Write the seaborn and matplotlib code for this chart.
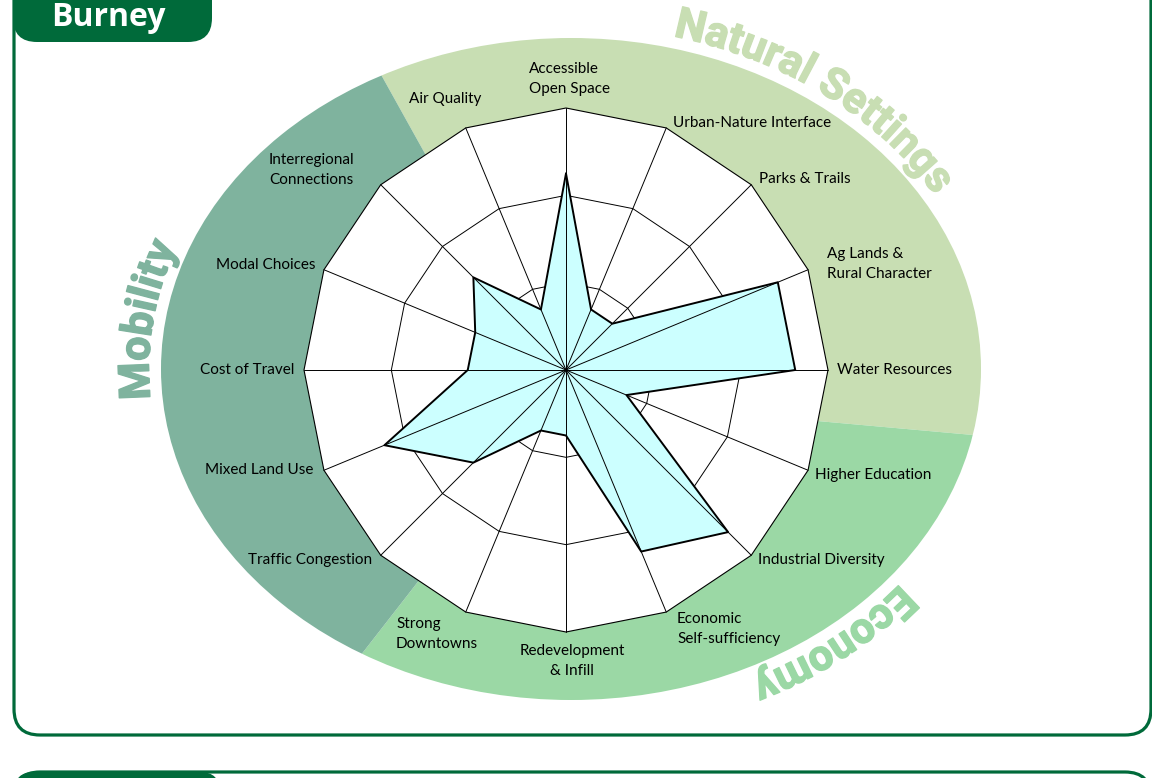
import numpy as np
import pandas as pd
import matplotlib
matplotlib.use("Agg")
import matplotlib.pyplot as plt
import matplotlib.patheffects as pe
import seaborn as sns
from matplotlib import ft2font, font_manager
from matplotlib.font_manager import FontProperties
from matplotlib.patches import Ellipse, Wedge, FancyBboxPatch

# ---- data ----
categories = ["Accessible\nOpen Space", "Urban-Nature Interface", "Parks & Trails",
              "Ag Lands &\nRural Character", "Water Resources", "Higher Education",
              "Industrial Diversity", "Economic\nSelf-sufficiency", "Redevelopment\n& Infill",
              "Strong\nDowntowns", "Traffic Congestion", "Mixed Land Use", "Cost of Travel",
              "Modal Choices", "Interregional\nConnections", "Air Quality"]
scores = [3, 1, 1, 3.5, 3.5, 1, 3.5, 3, 1, 1, 2, 3, 1.5, 1.5, 2, 1]
ring_levels = [4 / 3, 8 / 3]
max_score = 4
themes = ["Natural Settings", "Economy", "Mobility"]
title = "Burney"

# ---- styles / layout (pixels) ----
W, H = 1152, 778
dark_green = "#006a3a"
theme_colors = ["#c8deb3", "#9bd8a5", "#7fb39e"]
fill_color = "#ccffff"
label_font = "Lato"
title_font = "Open Sans"
theme_font = "Roboto"
radar_c = (566, 370)
radar_R = 262
ell_c, ell_a, ell_b = (571, 369), 410, 331
wedge_c = (561, 398)
# wedge angles in (pixel) data space, boundaries between themes
wedge_angles = [(240.9, 365.13), (5.13, 127.9), (127.9, 240.9)]
theme_text_t = [36, 142, 278]

label_pos = [(529, 79, "left"), (673, 123, "left"), (759, 179, "left"), (827, 264, "left"),
             (837, 370, "left"), (815, 475, "left"), (758, 560, "left"), (677, 629, "left"),
             (572, 661, "center"), (396, 634, "left"), (372, 560, "right"), (313, 470, "right"),
             (294, 370, "right"), (316, 265, "right"), (269, 170, "left"), (481, 99, "right")]

sns.set_theme(style="white")
plt.rcParams["font.family"] = [label_font, "DejaVu Sans"]

fig = plt.figure(figsize=(W / 100, H / 100), dpi=100)
bg = fig.add_axes([0, 0, 1, 1])
bg.set_xlim(0, W)
bg.set_ylim(H, 0)
bg.axis("off")

# frame and title tab
bg.add_patch(FancyBboxPatch((14, -60), 1137, 795, boxstyle="round,pad=0,rounding_size=26",
                            facecolor="white", edgecolor=dark_green, lw=2.3, zorder=0))
bg.add_patch(FancyBboxPatch((13, -60), 199, 102, boxstyle="round,pad=0,rounding_size=24",
                            facecolor=dark_green, edgecolor="none", zorder=1))
bg.text(108, 17, title, color="white", fontsize=23, fontweight="bold", ha="center",
        va="center", family=[title_font, "DejaVu Sans"], zorder=2)
# next panel top
bg.add_patch(FancyBboxPatch((14, 772), 1137, 100, boxstyle="round,pad=0,rounding_size=26",
                            facecolor="white", edgecolor=dark_green, lw=2.3, zorder=0))
bg.add_patch(FancyBboxPatch((14, 772), 206, 100, boxstyle="round,pad=0,rounding_size=20",
                            facecolor=dark_green, edgecolor="none", zorder=1))

# themed ellipse sectors
ell = Ellipse(ell_c, 2 * ell_a, 2 * ell_b, facecolor="none", edgecolor="none")
bg.add_patch(ell)
for (t1, t2), col in zip(wedge_angles, theme_colors):
    w = Wedge(wedge_c, 1500, t1, t2, facecolor=col, edgecolor="none", zorder=1)
    bg.add_patch(w)
    w.set_clip_path(ell)


# curved theme titles
def arc_text(ax, s, t_center, color, size=31, gap=12, tracking=1.0):
    fp = FontProperties(family=theme_font, weight="bold")
    font = ft2font.FT2Font(font_manager.findfont(fp))
    font.set_size(size, 100)
    adv = []
    for ch in s:
        g = font.load_char(ord(ch))
        adv.append(tracking * g.linearHoriAdvance / 65536)
    a, b = ell_a + gap, ell_b + gap
    tt = np.radians(np.linspace(-360, 720, 20000))
    seg = np.hypot(np.diff(a * np.sin(tt)), np.diff(-b * np.cos(tt)))
    arc = np.concatenate([[0], np.cumsum(seg)])
    s_mid = np.interp(np.radians(t_center), tt, arc)
    pos = s_mid - sum(adv) / 2
    for ch, w_ in zip(s, adv):
        t = np.interp(pos + w_ / 2, arc, tt)
        x = ell_c[0] + a * np.sin(t)
        y = ell_c[1] - b * np.cos(t)
        rot = np.degrees(np.arctan2(-b * np.sin(t), a * np.cos(t)))
        ax.text(x, y, ch, fontsize=size, fontweight="bold", color=color, rotation=rot,
                rotation_mode="anchor", ha="center", va="baseline",
                family=[theme_font, "DejaVu Sans"], zorder=2,
                path_effects=[pe.withStroke(linewidth=1.0, foreground=color)])
        pos += w_


for name, tc, col in zip(themes, theme_text_t, theme_colors):
    arc_text(bg, name, tc, col)

# category labels
for lab, (x, y, ha) in zip(categories, label_pos):
    bg.text(x, y, lab, ha=ha, va="center", multialignment=ha, fontsize=11,
            color="black", linespacing=1.55, zorder=3)

# ---- radar ----
half = 300
L = max_score * half / radar_R
ax = fig.add_axes([(radar_c[0] - half) / W, (H - radar_c[1] - half) / H, 2 * half / W, 2 * half / H])
ax.set_xlim(-L, L)
ax.set_ylim(-L, L)
ax.patch.set_alpha(0)

theta = np.radians(np.arange(len(categories)) * 360 / len(categories))
ux, uy = np.sin(theta), np.cos(theta)
closed = list(range(len(categories))) + [0]

ax.fill(max_score * ux, max_score * uy, facecolor="white", edgecolor="black", lw=0.8, zorder=1)
for r in ring_levels:
    ax.plot(r * ux[closed], r * uy[closed], color="black", lw=0.7, zorder=2)

vals = np.array(scores)
ax.fill(vals * ux, vals * uy, color=fill_color, lw=0, zorder=3)
for x_, y_ in zip(ux, uy):
    ax.plot([0, max_score * x_], [0, max_score * y_], color="black", lw=0.7, zorder=4)

df = pd.DataFrame({"x": (vals * ux)[closed], "y": (vals * uy)[closed]})
sns.lineplot(data=df, x="x", y="y", sort=False, estimator=None, color="black", lw=1.4,
             ax=ax, zorder=5)
ax.axis("off")

fig.savefig("out.png", dpi=100)
